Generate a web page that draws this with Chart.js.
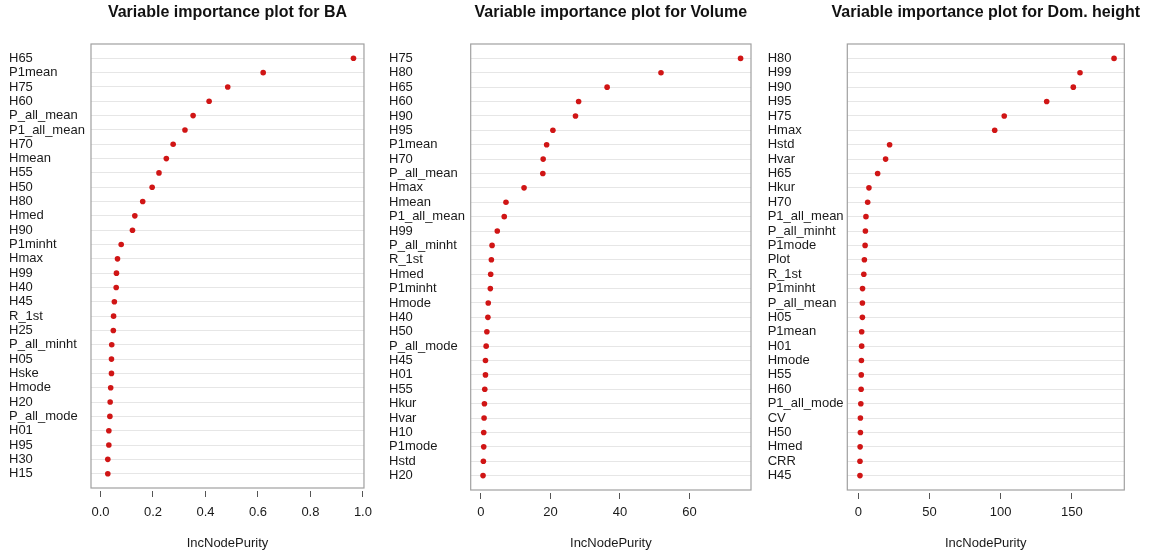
<!DOCTYPE html>
<html>
<head>
<meta charset="utf-8">
<script src="https://cdn.jsdelivr.net/npm/chart.js@4.4.1/dist/chart.umd.min.js"></script>
<style>
  body { margin: 0; background: #fff; width: 1151px; height: 556px; position: relative; overflow: hidden; }
  canvas { position: absolute; top: 0; }
</style>
</head>
<body>
<canvas id="g-ba" width="380" height="556" style="left:0"></canvas>
<canvas id="g-vol" width="375" height="556" style="left:380px"></canvas>
<canvas id="g-dom" width="396" height="556" style="left:755px"></canvas>
<script>
// Datos (IncNodePurity por variable)
const varsBA = ['H65','P1mean','H75','H60','P_all_mean','P1_all_mean','H70','Hmean','H55','H50',
  'H80','Hmed','H90','P1minht','Hmax','H99','H40','H45','R_1st','H25',
  'P_all_minht','H05','Hske','Hmode','H20','P_all_mode','H01','H95','H30','H15'];
const valBA = [0.964, 0.620, 0.485, 0.414, 0.353, 0.322, 0.277, 0.251, 0.223, 0.197,
  0.161, 0.131, 0.122, 0.079, 0.065, 0.061, 0.060, 0.053, 0.050, 0.049,
  0.043, 0.042, 0.042, 0.039, 0.037, 0.036, 0.032, 0.032, 0.028, 0.028];

const varsVol = ['H75','H80','H65','H60','H90','H95','P1mean','H70','P_all_mean','Hmax',
  'Hmean','P1_all_mean','H99','P_all_minht','R_1st','Hmed','P1minht','Hmode','H40','H50',
  'P_all_mode','H45','H01','H55','Hkur','Hvar','H10','P1mode','Hstd','H20'];
const valVol = [74.7, 51.8, 36.3, 28.1, 27.2, 20.7, 18.9, 17.9, 17.8, 12.4,
  7.2, 6.7, 4.7, 3.2, 3.0, 2.8, 2.7, 2.1, 2.0, 1.7,
  1.5, 1.3, 1.3, 1.1, 1.0, 0.9, 0.8, 0.8, 0.7, 0.6];

const varsDom = ['H80','H99','H90','H95','H75','Hmax','Hstd','Hvar','H65','Hkur',
  'H70','P1_all_mean','P_all_minht','P1mode','Plot','R_1st','P1minht','P_all_mean','H05','P1mean',
  'H01','Hmode','H55','H60','P1_all_mode','CV','H50','Hmed','CRR','H45'];
const valDom = [179.6, 155.7, 151.0, 132.3, 102.5, 95.8, 22.0, 19.2, 13.6, 7.5,
  6.6, 5.4, 5.0, 4.8, 4.3, 3.9, 3.0, 2.9, 2.9, 2.4,
  2.4, 2.2, 2.1, 2.0, 1.8, 1.5, 1.5, 1.3, 1.2, 1.2];

// Marcas del eje x
const ticksBA = [0, 0.2, 0.4, 0.6, 0.8, 1.0];
const ticksVol = [0, 20, 40, 60];
const ticksDom = [0, 50, 100, 150];

const fuente = '"Liberation Sans", Arial, sans-serif';

// caja y título al estilo de R
const marco = {
  id: 'marco',
  afterDraw(chart, args, opts) {
    const a = chart.chartArea, c = chart.ctx;
    c.save();
    c.strokeStyle = '#a0a0a0';
    c.lineWidth = 1.2;
    c.strokeRect(a.left, a.top, a.right - a.left, a.bottom - a.top);
    c.font = 'bold 16px ' + fuente;
    c.fillStyle = '#111';
    c.textAlign = 'center';
    c.textBaseline = 'middle';
    c.fillText(opts.texto, (a.left + a.right) / 2, 13);
    c.restore();
  }
};

function crearPanel(id, titulo, nombres, valores, marcas, xmin, xmax, caja, decimales) {
  const ancho = document.getElementById(id).width;
  new Chart(document.getElementById(id), {
    type: 'scatter',
    data: {
      datasets: [{
        data: valores.map((v, i) => ({ x: v, y: i + 1 })),
        backgroundColor: '#d01515',
        borderColor: '#d01515',
        pointRadius: 2.8,
        pointBorderWidth: 0
      }]
    },
    plugins: [marco],
    options: {
      responsive: false,
      animation: false,
      layout: { padding: { left: caja.labelX, right: ancho - caja.right, top: caja.top, bottom: 0 } },
      plugins: {
        legend: { display: false },
        tooltip: { enabled: false },
        marco: { texto: titulo }
      },
      scales: {
        y: {
          type: 'linear',
          reverse: true,
          min: 0,
          max: nombres.length + 1,
          afterBuildTicks: s => { s.ticks = nombres.map((_, i) => ({ value: i + 1 })); },
          afterFit: s => { s.width = caja.left - caja.labelX; },
          grid: { color: '#e6e6e6', drawTicks: false, lineWidth: 1 },
          border: { display: false },
          ticks: {
            crossAlign: 'far',
            autoSkip: false,
            color: '#1a1a1a',
            font: { family: fuente, size: 13 },
            callback: v => nombres[v - 1]
          }
        },
        x: {
          type: 'linear',
          min: xmin,
          max: xmax,
          afterBuildTicks: s => { s.ticks = marcas.map(v => ({ value: v })); },
          afterFit: s => { s.height = 556 - caja.bottom; },
          grid: { drawOnChartArea: false, tickLength: 9, tickColor: '#555', tickBorderDash: [0, 3, 6], lineWidth: 1 },
          border: { display: false },
          ticks: {
            padding: 505 - caja.bottom - 9,
            color: '#1a1a1a',
            font: { family: fuente, size: 13 },
            callback: v => decimales ? v.toFixed(1) : String(v)
          },
          title: {
            display: true,
            text: 'IncNodePurity',
            color: '#1a1a1a',
            font: { family: fuente, size: 13 },
            padding: { top: 0, bottom: 5 }
          }
        }
      }
    }
  });
}

crearPanel('g-ba', 'Variable importance plot for BA', varsBA, valBA, ticksBA, -0.036, 1.004,
  { labelX: 9, left: 91, right: 369, top: 44, bottom: 488 }, true);
crearPanel('g-vol', 'Variable importance plot for Volume', varsVol, valVol, ticksVol, -2.95, 77.7,
  { labelX: 9, left: 90.7, right: 372.7, top: 44, bottom: 490 }, false);
crearPanel('g-dom', 'Variable importance plot for Dom. height', varsDom, valDom, ticksDom, -7.7, 186.8,
  { labelX: 12.7, left: 92.3, right: 369.3, top: 44, bottom: 490 }, false);
</script>
</body>
</html>
